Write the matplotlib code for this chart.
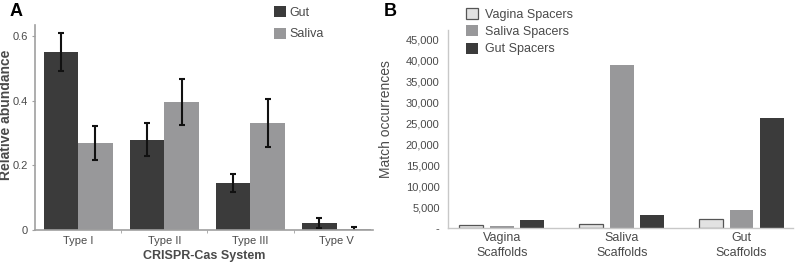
import numpy as np
import matplotlib
matplotlib.use("Agg")
import matplotlib.pyplot as plt
from matplotlib.ticker import FuncFormatter

plt.rcParams['font.family'] = ['Liberation Sans', 'DejaVu Sans']

# panel A data
cas_types = ['Type I', 'Type II', 'Type III', 'Type V']
gut_abund = [0.552, 0.280, 0.145, 0.021]
gut_err = [0.058, 0.052, 0.028, 0.015]
saliva_abund = [0.270, 0.396, 0.332, 0.003]
saliva_err = [0.053, 0.072, 0.074, 0.008]

# panel B data
scaffolds = ['Vagina\nScaffolds', 'Saliva\nScaffolds', 'Gut\nScaffolds']
vagina_spacers = [700, 1000, 2100]
saliva_spacers = [500, 38900, 4300]
gut_spacers = [2000, 3100, 26300]

dark = '#3b3b3b'
mid = '#98989a'
light = '#e2e2e2'
txt = '#4a4a4a'
spine = '#a0a0a0'

fig = plt.figure(figsize=(7.95, 2.66), dpi=100)

# ---- panel A
ax = fig.add_axes([0.044, 0.135, 0.425, 0.771])
x = np.arange(len(cas_types))
w = 0.4
ekw = dict(ecolor='#111111', elinewidth=1.5, capsize=2.2, capthick=1.5)
ax.bar(x - w / 2, gut_abund, w, yerr=gut_err, color=dark, label='Gut', error_kw=ekw, zorder=2)
ax.bar(x + w / 2, saliva_abund, w, yerr=saliva_err, color=mid, label='Saliva', error_kw=ekw, zorder=2)
ax.set_xlim(-0.5, 3.42)
ax.set_ylim(0, 0.635)
ax.set_yticks([0, 0.2, 0.4, 0.6])
ax.set_yticklabels(['0', '0.2', '0.4', '0.6'])
ax.set_xticks(x)
ax.set_xticklabels(cas_types)
ax.set_xticks([0.5, 1.5, 2.5], minor=True)
ax.tick_params(axis='x', which='major', length=0, pad=4, labelsize=8, labelcolor=txt)
ax.tick_params(axis='x', which='minor', length=2, color=spine)
ax.tick_params(axis='y', length=2, color=spine, pad=3, labelsize=8, labelcolor=txt)
for s in ['top', 'right']:
    ax.spines[s].set_visible(False)
for s in ['left', 'bottom']:
    ax.spines[s].set_color(spine)
    ax.spines[s].set_linewidth(1.2)
ax.set_ylabel('Relative abundance', fontsize=10, fontweight='bold', color=txt)
ax.yaxis.set_label_coords(-0.066, 0.56)
ax.set_xlabel('CRISPR-Cas System', fontsize=9, fontweight='bold', color=txt, labelpad=3)
fig.legend(*ax.get_legend_handles_labels(), loc='upper left', bbox_to_anchor=(0.33, 1.02),
           frameon=False, fontsize=9, handlelength=1.0, handleheight=1.0,
           handletextpad=0.3, labelspacing=0.7, labelcolor=txt)
fig.text(0.012, 0.955, 'A', fontsize=13, fontweight='bold', va='center')

# ---- panel B
bx = fig.add_axes([0.5635, 0.143, 0.434, 0.745])
xb = np.arange(len(scaffolds))
step = 0.254
bw = 0.2
bx.bar(xb - step, vagina_spacers, bw, color=light, edgecolor='#555555', linewidth=0.9, label='Vagina Spacers')
bx.bar(xb, saliva_spacers, bw, color=mid, label='Saliva Spacers')
bx.bar(xb + step, gut_spacers, bw, color=dark, label='Gut Spacers')
bx.set_xlim(-0.45, 2.43)
bx.set_ylim(0, 47400)
bx.set_yticks(np.arange(0, 45001, 5000))
bx.yaxis.set_major_formatter(FuncFormatter(lambda v, p: '-' if v == 0 else f'{int(v):,}'))
bx.set_xticks(xb)
bx.set_xticklabels(scaffolds, linespacing=1.3)
bx.tick_params(axis='x', length=0, pad=3, labelsize=9, labelcolor=txt)
bx.tick_params(axis='y', length=0, pad=6, labelsize=8, labelcolor=txt)
for s in ['top', 'right']:
    bx.spines[s].set_visible(False)
for s in ['left', 'bottom']:
    bx.spines[s].set_color('#c8c8c8')
    bx.spines[s].set_linewidth(1.0)
bx.set_ylabel('Match occurrences', fontsize=10, color=txt)
bx.yaxis.set_label_coords(-0.16, 0.55)
fig.legend(*bx.get_legend_handles_labels(), loc='upper left', bbox_to_anchor=(0.572, 1.012),
           frameon=False, fontsize=9, handlelength=1.0, handleheight=1.0,
           handletextpad=0.5, labelspacing=0.35, labelcolor=txt)
fig.text(0.483, 0.955, 'B', fontsize=13, fontweight='bold', va='center')

fig.savefig('out.png', dpi=100)
